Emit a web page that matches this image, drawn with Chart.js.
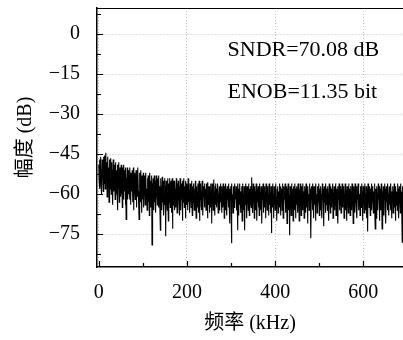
<!DOCTYPE html>
<html>
<head>
<meta charset="utf-8">
<script src="https://cdn.jsdelivr.net/npm/chart.js@4"></script>
<style>
  html, body { margin: 0; padding: 0; background: #fff; }
  #spec { display: block; }
</style>
</head>
<body>
<canvas id="spec" width="403" height="340"></canvas>
<script>
// --- data (dB), one value per FFT bin ---
const binKHz = 0.8625;
const ampDb = [
  -49, -55, -47, -58, -51, -46, -57, -53, -60, -47, -54, -49, -59, -46, -56, -52, -45.5, -58, -50, -44.5,
  -55, -48, -61, -52, -46, -57, -50, -63, -47, -54, -58, -46.5, -53, -60, -48, -56, -51, -64, -47, -55,
  -59, -49, -53, -62, -48, -57, -51, -60, -55, -49, -66, -52, -58, -48, -63, -54, -50, -61, -56, -49,
  -60, -53, -65, -50, -57, -62, -49, -55, -59, -51, -64, -50, -69.5, -54, -58, -50, -62, -56, -51, -60,
  -53, -62, -50, -57, -64, -52, -59, -55, -51, -63, -58, -50, -66, -54, -60, -52, -62, -56, -51, -65,
  -57, -53, -61, -50, -59, -64, -69.5, -52, -58, -55, -63, -51, -60, -67, -53, -57, -62, -52, -65, -56,
  -60, -53, -64, -56, -52, -62, -58, -66, -54, -61, -53, -63, -57, -68, -52, -59, -65, -55, -61, -53,
  -79, -56, -62, -54, -66, -58, -53, -63, -60, -55, -67, -53, -61, -57, -64, -54, -59, -65, -53, -62,
  -57, -64, -73.5, -54, -61, -58, -66, -53.5, -63, -59, -55, -68, -60, -54, -64, -57, -75.8, -55, -62, -59,
  -66, -54, -61, -70, -56, -63, -54, -60, -65, -57, -55, -67, -62, -54, -73, -58, -64, -55, -61, -66,
  -55, -62, -58, -65, -54, -60, -67, -56, -63, -55, -59, -64, -57, -68, -54, -61, -66, -56, -62, -58,
  -70, -55, -63, -59, -54, -65, -60, -57, -69, -55, -62, -64, -56, -60, -66, -54, -63, -58, -61, -67,
  -56, -62, -59, -65, -55, -61, -68, -57, -63, -56, -60, -66, -58, -64, -55, -62, -69, -57, -61, -59,
  -65, -56, -63, -67, -55, -70, -58, -62, -56, -64, -60, -66, -55, -63, -68, -57, -61, -59, -65, -56,
  -62, -58, -66, -56, -63, -60, -69, -55.5, -61, -64, -57, -67, -59, -62, -56, -65, -58, -71, -56, -63,
  -60, -66, -54.5, -62, -59, -68, -57, -64, -56, -61, -65, -58, -63, -56, -67, -60, -62, -57, -66, -59,
  -56, -63, -60, -67, -57, -62, -65, -56, -64, -59, -69, -57, -61, -66, -56, -63, -58, -68, -57, -62,
  -60, -65, -56, -64, -71, -58, -62, -57, -66, -78.4, -56, -63, -60, -67, -57, -61, -65, -56, -64, -59,
  -62, -57, -66, -59, -63, -73.5, -56, -61, -68, -58, -64, -56, -62, -67, -59, -65, -57, -70, -56, -63,
  -60, -66, -57, -62, -73.5, -58, -64, -56, -61, -69, -57, -63, -59, -66, -56, -62, -68, -58, -64, -57,
  -61, -65, -53.7, -63, -58, -67, -56, -62, -60, -69, -57, -64, -59, -66, -56, -61, -70, -58, -63, -57,
  -65, -60, -68, -56, -62, -59, -66, -57, -64, -71, -58, -62, -56, -67, -60, -63, -57, -65, -59, -69,
  -56, -62, -58, -66, -57, -63, -60, -68, -56, -64, -59, -61, -67, -57, -74.6, -58, -63, -56, -65, -60,
  -69, -57, -62, -59, -66, -56, -64, -61, -70, -58, -63, -57, -67, -59, -62, -56, -65, -60, -68, -57,
  -63, -58, -66, -56, -61, -69, -57, -64, -60, -62, -56, -67, -59, -65, -57, -71, -58, -63, -56, -66,
  -60, -62, -75.4, -57, -64, -59, -68, -56, -62, -65, -58, -70, -57, -63, -60, -66, -56, -61, -69, -58,
  -64, -57, -62, -67, -56, -63, -59, -70, -58, -65, -56, -61, -68, -57, -64, -60, -66, -56, -62, -59,
  -69, -57, -63, -58, -67, -56, -61, -65, -59, -71, -57, -62, -60, -66, -56, -64, -58, -68, -76.5, -57,
  -62, -59, -66, -56, -63, -69, -57, -61, -64, -58, -70, -56, -62, -60, -67, -57, -65, -59, -63, -56,
  -68, -58, -61, -66, -57, -64, -60, -69, -56, -62, -58, -65, -72, -57, -63, -59, -67, -56, -61, -64,
  -58, -66, -57, -62, -60, -70, -56, -64, -59, -67, -57, -61, -65, -58, -63, -56, -69, -60, -62, -57,
  -66, -59, -64, -56, -68, -58, -61, -63, -57, -71, -59, -62, -56, -66, -60, -64, -57, -67, -58, -63,
  -56, -65, -59, -62, -57, -69, -60, -64, -56, -66, -58, -61, -70, -57, -63, -59, -67, -56, -62, -65,
  -58, -68, -57, -61, -60, -66, -56, -64, -59, -71, -57, -62, -58, -67, -56, -63, -60, -65, -57, -69,
  -59, -62, -56, -66, -58, -64, -60, -68, -57, -61, -65, -56, -63, -59, -70, -57, -62, -58, -67, -56,
  -64, -60, -66, -57, -62, -69, -58, -74, -56, -63, -59, -65, -57, -61, -68, -58, -64, -56, -66, -60,
  -62, -57, -67, -59, -63, -56, -65, -73, -58, -61, -69, -57, -64, -60, -66, -56, -62, -59, -70, -57,
  -63, -58, -66, -56, -61, -73, -59, -64, -57, -68, -60, -62, -56, -65, -58, -71, -57, -63, -59, -66,
  -56, -62, -60, -68, -57, -64, -58, -66, -56, -61, -69, -59, -63, -57, -67, -60, -62, -56, -65, -58,
  -70, -57, -64, -59, -61, -66, -56, -63, -58, -69, -57, -62, -60, -67, -56, -64, -59, -65, -78, -57,
  -62
];
const freqKHz = ampDb.map((v, i) => i * binKHz);

const xTicks = [0, 200, 400, 600];
const xMinor = [100, 300, 500];
const yTicks = [0, -15, -30, -45, -60, -75];
const yMinor = [7.5, -7.5, -22.5, -37.5, -52.5, -67.5, -82.5];
const notes = ['SNDR=70.08 dB', 'ENOB=11.35 bit'];

const serif = "'Liberation Serif', 'Noto Sans CJK SC', serif";

// no extra room for half-height tick labels, the plot box is fixed
function noPad(s) {
  s.paddingTop = 0; s.paddingBottom = 0; s.paddingLeft = 0; s.paddingRight = 0;
}

// --- frame, inward ticks and the two annotation lines ---
const framePlugin = {
  id: 'frame',
  afterDraw(chart) {
    const { ctx, chartArea: a, scales: { x, y } } = chart;
    ctx.save();
    ctx.strokeStyle = '#000';
    ctx.lineWidth = 1;
    ctx.beginPath();
    ctx.moveTo(a.left, a.top + 0.5);
    ctx.lineTo(a.right, a.top + 0.5);
    ctx.stroke();

    ctx.lineWidth = 1.2;
    ctx.beginPath();
    yTicks.forEach(v => { const p = Math.round(y.getPixelForValue(v)) + 0.5; ctx.moveTo(a.left, p); ctx.lineTo(a.left + 6, p); });
    yMinor.forEach(v => { const p = Math.round(y.getPixelForValue(v)) + 0.5; ctx.moveTo(a.left, p); ctx.lineTo(a.left + 4, p); });
    xTicks.forEach(v => { const p = Math.round(x.getPixelForValue(v)) + 0.5; ctx.moveTo(p, a.bottom); ctx.lineTo(p, a.bottom - 6); });
    xMinor.forEach(v => { const p = Math.round(x.getPixelForValue(v)) + 0.5; ctx.moveTo(p, a.bottom); ctx.lineTo(p, a.bottom - 4); });
    ctx.stroke();

    ctx.fillStyle = '#000';
    ctx.font = '22px ' + serif;
    ctx.textBaseline = 'middle';
    ctx.textAlign = 'left';
    ctx.fillText(notes[0], x.getPixelForValue(292), y.getPixelForValue(-6));
    ctx.fillText(notes[1], x.getPixelForValue(292), y.getPixelForValue(-21.8));
    ctx.restore();
  }
};

new Chart(document.getElementById('spec'), {
  type: 'line',
  data: {
    datasets: [{
      data: freqKHz.map((f, i) => ({ x: f, y: ampDb[i] })),
      borderColor: '#000',
      borderWidth: 1.1,
      pointRadius: 0,
      tension: 0
    }]
  },
  options: {
    responsive: false,
    animation: false,
    devicePixelRatio: 1,
    layout: { padding: { top: 8, right: 0, left: 0, bottom: 0 } },
    plugins: { legend: { display: false }, tooltip: { enabled: false } },
    scales: {
      x: {
        type: 'linear',
        min: -4,
        max: 690,
        afterBuildTicks: s => { s.ticks = xTicks.map(v => ({ value: v })); },
        afterFit: s => { s.height = 73; noPad(s); },
        grid: { color: '#c4c4c4', drawTicks: false },
        border: { display: true, color: '#000', width: 1.5, dash: [1, 2] },
        ticks: { color: '#000', padding: 14, font: { family: serif, size: 20 }, maxRotation: 0 },
        title: { display: true, text: '频率 (kHz)', color: '#000', padding: { top: 4, bottom: 4 }, font: { family: serif, size: 20 } }
      },
      y: {
        min: -87.3,
        max: 9.8,
        afterBuildTicks: s => { s.ticks = yTicks.map(v => ({ value: v })); },
        afterFit: s => { s.width = 97; noPad(s); },
        grid: { color: '#c4c4c4', drawTicks: false },
        border: { display: true, color: '#000', width: 1.5, dash: [1, 2] },
        ticks: {
          color: '#000', padding: 17, font: { family: serif, size: 20 },
          callback: v => (v < 0 ? '\u2212' + Math.abs(v) : String(v))
        },
        title: { display: true, text: '幅度 (dB)', color: '#000', padding: { top: 14, bottom: 14 }, font: { family: serif, size: 20 } }
      }
    }
  },
  plugins: [framePlugin]
});
</script>
</body>
</html>
